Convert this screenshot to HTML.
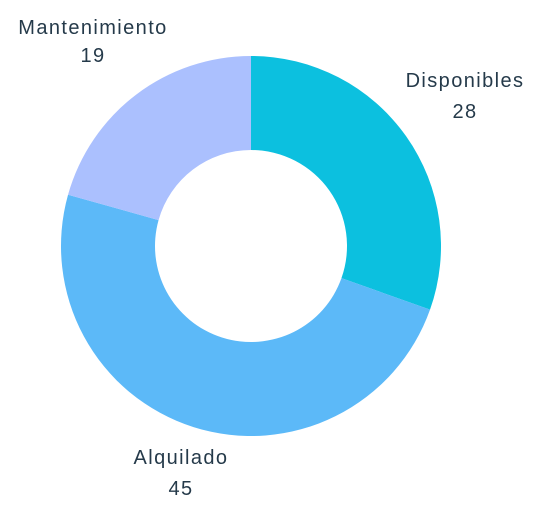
<!DOCTYPE html>
<html><head><meta charset="utf-8"><style>
html,body{margin:0;padding:0;background:#fff;}
svg{display:block;}
text{font-family:"Liberation Sans",sans-serif;font-size:20px;letter-spacing:1.4px;fill:#253a4a;text-anchor:middle;}
</style></head><body>
<svg id="chart" width="544" height="513"></svg>
<script>
const categories = ["Disponibles", "Alquilado", "Mantenimiento"];
const values = [28, 45, 19];
const colors = ["#0cc0df", "#5cb9f8", "#abc0fe"];
const labelPos = [[465, 87, 118], [181, 464, 495], [93, 34, 62]];
const cx = 251, cy = 246, R = 190, r = 96;
const svg = document.getElementById('chart');
const NS = 'http://www.w3.org/2000/svg';
const total = values.reduce((a, b) => a + b, 0);
function pt(rad, a) { return [cx + rad * Math.sin(a), cy - rad * Math.cos(a)]; }
let start = 0;
values.forEach((v, i) => {
  const end = start + v / total * 2 * Math.PI;
  const large = (end - start) > Math.PI ? 1 : 0;
  const [x1, y1] = pt(R, start), [x2, y2] = pt(R, end);
  const [x3, y3] = pt(r, end), [x4, y4] = pt(r, start);
  const p = document.createElementNS(NS, 'path');
  p.setAttribute('d', `M${x1},${y1} A${R},${R} 0 ${large} 1 ${x2},${y2} L${x3},${y3} A${r},${r} 0 ${large} 0 ${x4},${y4} Z`);
  p.setAttribute('fill', colors[i]);
  
  
  svg.appendChild(p);
  const [lx, ly1, ly2] = labelPos[i];
  const t1 = document.createElementNS(NS, 'text');
  t1.setAttribute('x', lx); t1.setAttribute('y', ly1);
  t1.textContent = categories[i];
  
  
  svg.appendChild(t1);
  const t2 = document.createElementNS(NS, 'text');
  t2.setAttribute('x', lx); t2.setAttribute('y', ly2);
  t2.textContent = v;
  
  
  svg.appendChild(t2);
  start = end;
});
</script>
</body></html>
